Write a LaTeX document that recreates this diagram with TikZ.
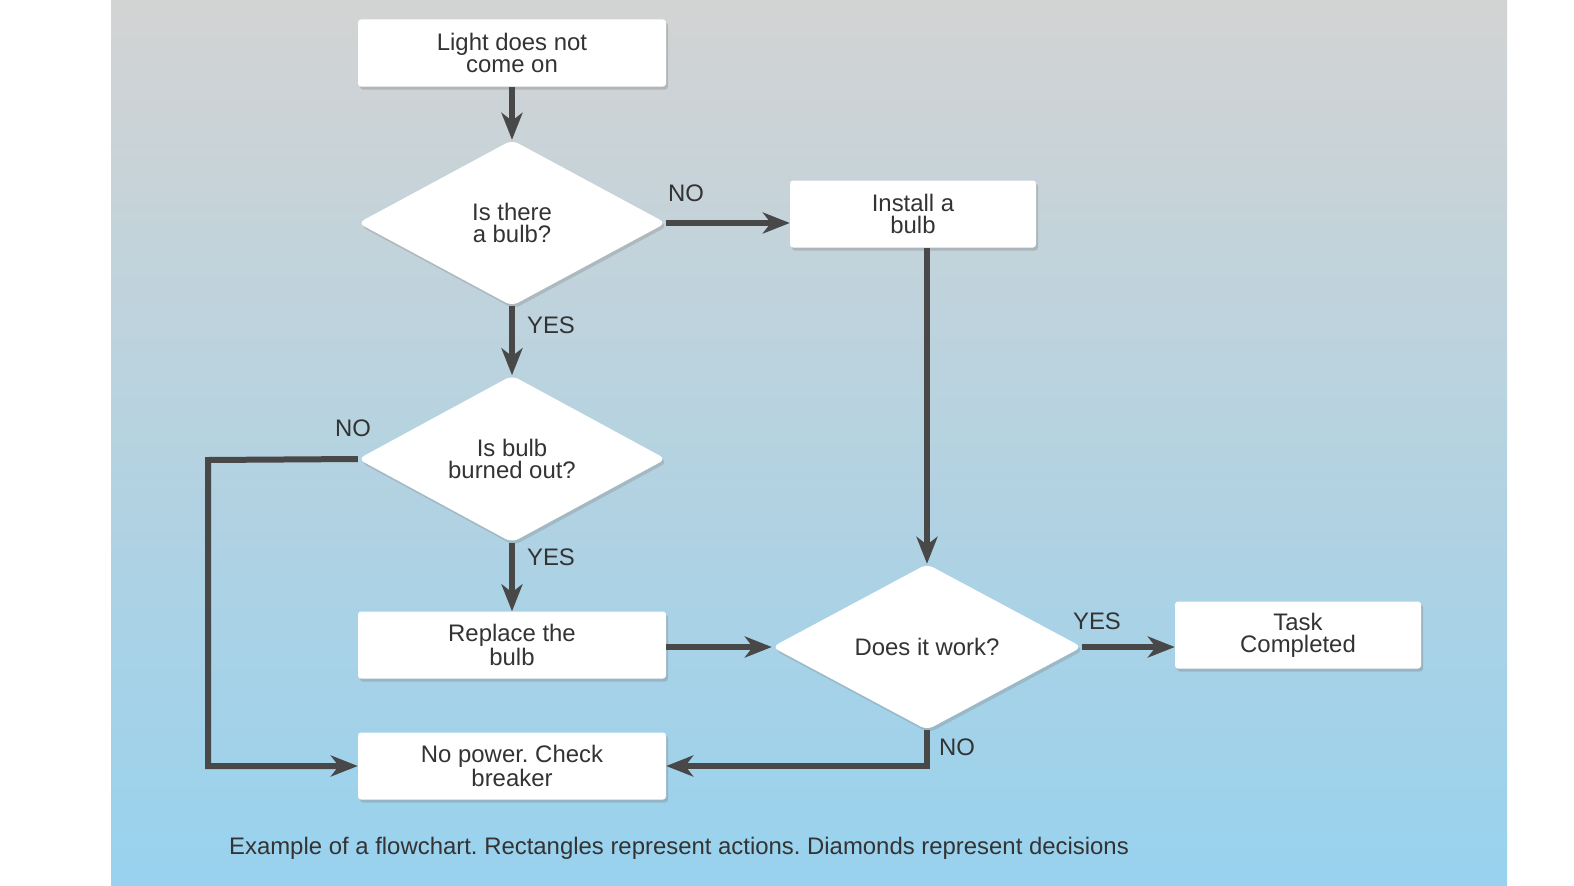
\documentclass[tikz,border=0pt]{standalone}
\usepackage{fontspec}
\setmainfont{Liberation Sans}
\usepackage{tikz}
\usetikzlibrary{arrows.meta, shapes.geometric, shadows}
\frenchspacing

\definecolor{bgtop}{RGB}{211,211,211}
\definecolor{bgbottom}{RGB}{152,210,238}
\definecolor{lineclr}{RGB}{72,72,72}
\definecolor{txtclr}{RGB}{51,51,51}

\tikzset{
  action/.style={draw=none, fill=white, rounded corners=3bp, minimum width=308bp, minimum height=67bp,
    align=center, text=txtclr, font=\fontsize{24}{22}\selectfont,
    drop shadow={shadow xshift=2bp, shadow yshift=-3bp, opacity=0.35}},
  decision/.style={diamond, draw=none, fill=white, rounded corners=7bp, inner sep=0pt,
    minimum width=308bp, minimum height=166bp, align=center, text=txtclr,
    font=\fontsize{24}{22}\selectfont,
    drop shadow={shadow xshift=2bp, shadow yshift=-3bp, opacity=0.3}},
  arr/.style={draw=lineclr, line width=6bp, -{Stealth[length=27bp, width=21bp, inset=8bp]}},
  lbl/.style={text=txtclr, font=\fontsize{24}{22}\selectfont, inner sep=0pt}
}

\begin{document}
\begin{tikzpicture}[x=1bp, y=-1bp]
  \useasboundingbox (0,0) rectangle (1574,885);
  \shade[top color=bgtop, bottom color=bgbottom] (111,0) rectangle (1507,885);

  \node[action] (start) at (512,53) {Light does not\\come on};
  \node[decision] (bulb) at (512,223) {Is there\\a bulb?};
  \node[action, minimum width=246bp] (install) at (913,214) {Install a\\bulb};
  \node[decision] (burned) at (512,459) {Is bulb\\burned out?};
  \node[action] (replace) at (512,645) {Replace the\\bulb};
  \node[action] (nopower) at (512,766) {No power. Check\\breaker};
  \node[decision, minimum width=310bp] (works) at (927,647) {Does it work?};
  \node[action, minimum width=246bp] (done) at (1298,635) {Task\\Completed};
  \coordinate (leftbend) at (208,460);

  \draw[arr] (start) -- (bulb);
  \draw[arr] (bulb.east) -- (bulb.east -| install.west);
  \draw[arr] (install.south -| works.north) -- (works.north);
  \draw[arr] (bulb) -- (burned);
  \draw[arr] (burned) -- (replace);
  \draw[arr] (burned.west) -- (leftbend) |- (nopower.west);
  \draw[arr] (replace.east |- works.west) -- (works.west);
  \draw[arr] (works.east) -- (works.east -| done.west);
  \draw[arr] (works.south) |- (nopower.east);

  \node[lbl] (lno1) at (686,193) {NO};
  \node[lbl] (lyes1) at (551,325) {YES};
  \node[lbl] (lno2) at (353,428) {NO};
  \node[lbl] (lyes2) at (551,557) {YES};
  \node[lbl] (lyes3) at (1097,621) {YES};
  \node[lbl] (lno3) at (957,747) {NO};

  \node[lbl, font=\fontsize{24}{26}\selectfont] (caption) at (679,848)
    {Example of a flowchart. Rectangles represent actions. Diamonds represent decisions};
\end{tikzpicture}
\end{document}
